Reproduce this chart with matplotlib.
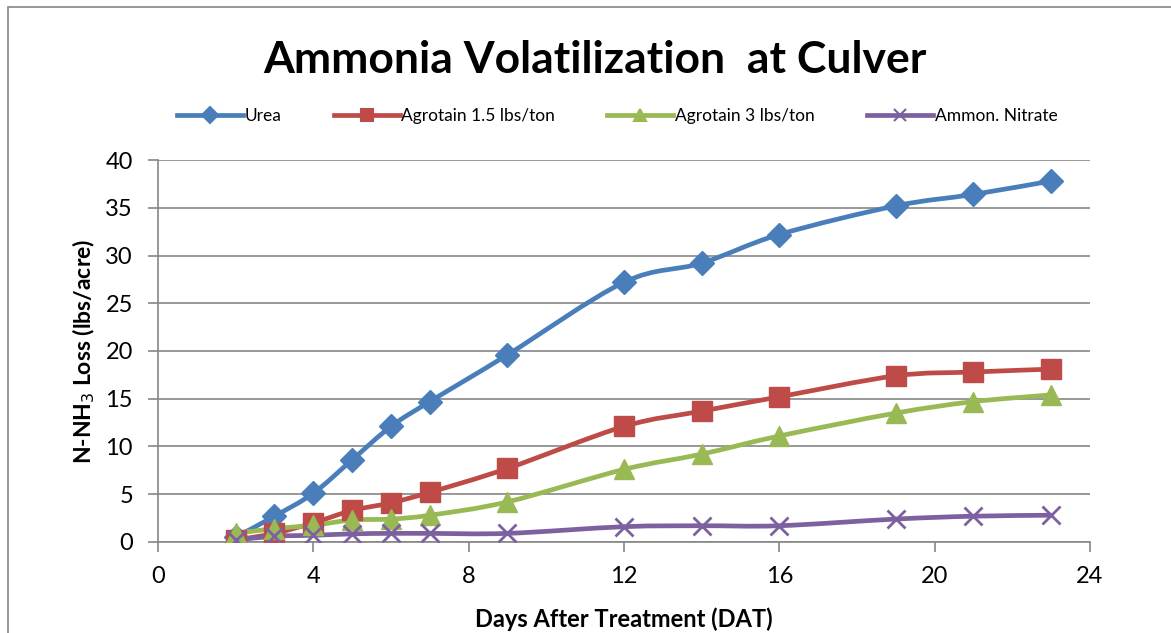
import numpy as np
import matplotlib
matplotlib.use("Agg")
import matplotlib.pyplot as plt
from matplotlib.path import Path
from matplotlib.patches import PathPatch, Rectangle
from matplotlib.lines import Line2D

days = [2, 3, 4, 5, 6, 7, 9, 12, 14, 16, 19, 21, 23]
urea = [0.5, 2.7, 5.1, 8.6, 12.1, 14.7, 19.6, 27.2, 29.2, 32.2, 35.2, 36.4, 37.8]
agro15 = [0.2, 0.9, 2.0, 3.3, 4.1, 5.2, 7.7, 12.1, 13.7, 15.2, 17.4, 17.8, 18.1]
agro3 = [0.9, 1.4, 1.75, 2.3, 2.4, 2.8, 4.2, 7.6, 9.2, 11.1, 13.5, 14.7, 15.4]
ammon = [0.2, 0.6, 0.7, 0.85, 0.9, 0.9, 0.9, 1.6, 1.7, 1.7, 2.4, 2.7, 2.8]

labels = ["Urea", "Agrotain 1.5 lbs/ton", "Agrotain 3 lbs/ton", "Ammon. Nitrate"]
colors = ["#4A7EBB", "#BE4B48", "#98B954", "#7D60A0"]
markers = ["D", "s", "^", "x"]
msizes = [12, 14, 14, 13]


def smooth_path(x, y):
    # excel-style smoothed line as cubic bezier segments
    pts = np.column_stack([x, y]).astype(float)
    n = len(pts)
    verts = [pts[0]]
    codes = [Path.MOVETO]
    for i in range(n - 1):
        p0 = pts[i - 1] if i > 0 else pts[i]
        p1 = pts[i]
        p2 = pts[i + 1]
        p3 = pts[i + 2] if i + 2 < n else pts[i + 1]
        c1 = p1 + (p2 - p0) / 6.0
        c2 = p2 - (p3 - p1) / 6.0
        verts += [c1, c2, p2]
        codes += [Path.CURVE4] * 3
    return Path(verts, codes)


fig = plt.figure(figsize=(11.71, 6.33), dpi=100)
ax = fig.add_axes([0.1349, 0.1438, 0.7959, 0.6034])

# outer chart frame
fig.patches.append(Rectangle((0.0068, -0.05), 1.2, 1.039, transform=fig.transFigure,
                             fill=False, edgecolor="#868686", linewidth=1.2))

series = [urea, agro15, agro3, ammon]
handles = []
for vals, lab, c, m, ms in zip(series, labels, colors, markers, msizes):
    ax.add_patch(PathPatch(smooth_path(days, vals), fill=False, edgecolor=c,
                           linewidth=3.4, capstyle="round", zorder=3))
    mew = 2 if m == "x" else 1
    ax.plot(days, vals, linestyle="none", marker=m, markersize=ms, color=c,
            markeredgewidth=mew, zorder=4)
    handles.append(Line2D([], [], color=c, linewidth=3.4, marker=m,
                          markersize=8, markeredgewidth=1.5, label=lab))

ax.set_xlim(0, 24)
ax.set_ylim(0, 40)
ax.set_xticks(range(0, 25, 4))
ax.set_yticks(range(0, 41, 5))
ax.grid(axis="y", color="#868686", linewidth=1.2)
ax.set_axisbelow(True)
for s in ["top", "right"]:
    ax.spines[s].set_visible(False)
for s in ["left", "bottom"]:
    ax.spines[s].set_color("#868686")
    ax.spines[s].set_linewidth(1.2)
ax.tick_params(axis="both", direction="out", length=7, width=1.2, color="#868686",
               labelsize=17)
ax.tick_params(axis="x", pad=10)
ax.tick_params(axis="y", pad=11)
for t in ax.get_xticklabels() + ax.get_yticklabels():
    t.set_family("Lato")

ax.set_xlabel("Days After Treatment (DAT)", fontsize=17, fontweight="bold",
              family="Lato", labelpad=15)
ax.set_ylabel(r"N-NH$_3$ Loss (lbs/acre)", fontsize=16.5, fontweight="bold",
              family="Lato", labelpad=6)

fig.text(0.508, 0.905, "Ammonia Volatilization  at Culver", ha="center", va="center",
         fontsize=32, fontweight="bold", family="Lato")

fig.legend(handles=handles, loc="center", bbox_to_anchor=(0.527, 0.816), ncol=4,
           frameon=False, prop={"family": "Lato", "size": 12.5}, handlelength=3.8,
           columnspacing=3.0, handletextpad=0.1)

plt.savefig("out.png", dpi=100)
plt.close()
